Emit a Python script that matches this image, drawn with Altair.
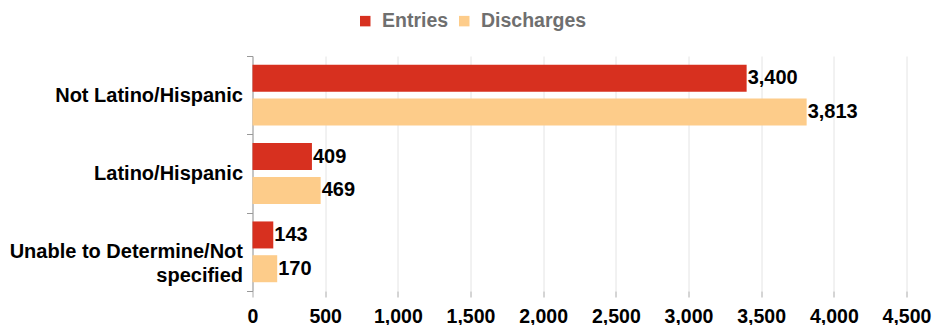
import altair as alt
import pandas as pd

categories = ["Not Latino/Hispanic", "Latino/Hispanic", "Unable to Determine/Not specified"]
series = ["Entries", "Discharges"]
entries = [3400, 409, 143]
discharges = [3813, 469, 170]
x_ticks = [0, 500, 1000, 1500, 2000, 2500, 3000, 3500, 4000, 4500]
colors = ["#d7301f", "#fdcc8a"]

rows = []
for c, e, d in zip(categories, entries, discharges):
    rows.append({"cat": c, "series": "Entries", "value": e})
    rows.append({"cat": c, "series": "Discharges", "value": d})
df = pd.DataFrame(rows)

FONT = "Liberation Sans"
FS = 20

label_expr = ("datum.value == 'Unable to Determine/Not specified' ? "
              "['Unable to Determine/Not', 'specified'] : datum.value")

y_enc = alt.Y(
    "cat:N", sort=categories, title=None,
    scale=alt.Scale(paddingInner=0, paddingOuter=0),
    axis=alt.Axis(
        labelExpr=label_expr, labelFont=FONT, labelFontSize=FS, labelFontWeight="bold",
        labelColor="#000000", labelPadding=4, tickBand="extent", tickSize=6,
        tickColor="#999999", domainColor="#999999", labelLimit=400, labelLineHeight=24,
    ),
)
yoff = alt.YOffset("series:N", sort=series,
                   scale=alt.Scale(paddingInner=0.2, paddingOuter=0.26))
x_enc = alt.X(
    "value:Q", title=None,
    scale=alt.Scale(domain=[0, 4500], nice=False),
    axis=alt.Axis(
        values=x_ticks, format=",d", labelFont=FONT, labelFontSize=19.5, labelFontWeight="bold",
        labelColor="#000000", domain=False, tickSize=6, tickColor="#aaaaaa",
        gridColor="#e4e4e4", labelPadding=10, labelFlush=False,
    ),
)

color = alt.Color(
    "series:N", sort=series, title=None,
    scale=alt.Scale(domain=series, range=colors),
    legend=alt.Legend(
        orient="none", legendX=103, legendY=-45, direction="horizontal",
        symbolType="square", symbolSize=110, symbolStrokeWidth=0,
        labelFont=FONT, labelFontSize=19.5, labelFontWeight="bold", labelColor="#6f6f6f",
        labelOffset=7, columnPadding=6, padding=0,
    ),
)

base = alt.Chart(df).encode(y=y_enc, yOffset=yoff, x=x_enc)
bars = base.mark_bar().encode(color=color)
texts = base.mark_text(align="left", baseline="middle", dx=1, font=FONT,
                       fontSize=FS, fontWeight="bold", color="#000000").encode(
    text=alt.Text("value:Q", format=",d"))

chart = alt.layer(bars, texts).properties(
    width=654, height=235,
    autosize=alt.AutoSizeParams(type="none"),
    padding={"left": 244.5, "top": 48, "right": 25.5, "bottom": 34},
).configure_view(stroke=None)

chart.save("out.html", embed_options={"renderer": "svg", "actions": False})
